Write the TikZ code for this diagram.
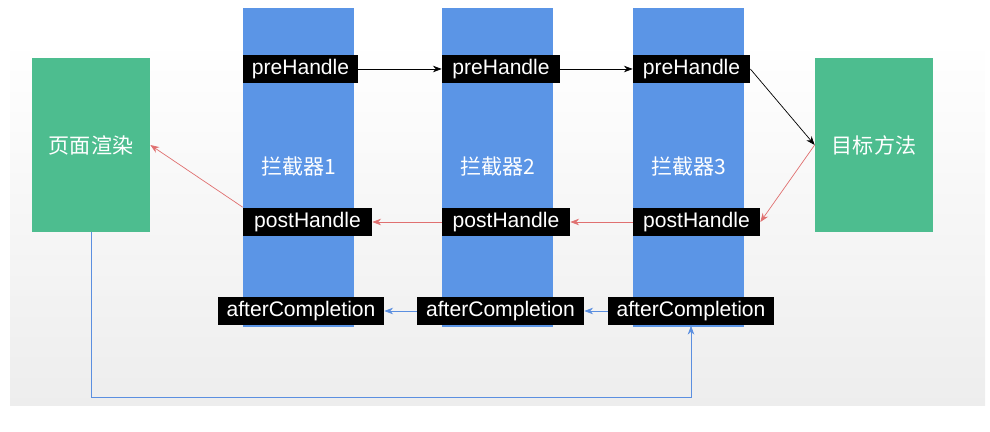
\documentclass[tikz,border=0pt]{standalone}
\usepackage{fontspec}
\setmainfont{Liberation Sans}
\newfontfamily\cjk{Noto Sans CJK SC}
\usetikzlibrary{arrows.meta}
\definecolor{boxgreen}{HTML}{4DBD8F}
\definecolor{colblue}{HTML}{5B95E6}
\definecolor{redline}{HTML}{E07070}
\definecolor{blueline}{HTML}{5B8FE0}
\tikzset{
  greenbox/.style={fill=boxgreen,text=white,minimum width=2.36cm,minimum height=3.48cm,font=\cjk\fontsize{12}{14}\selectfont},
  column/.style={fill=colblue,minimum width=2.22cm,minimum height=6.38cm},
  tag/.style={fill=black,text=white,minimum height=0.58cm,inner sep=0pt,font=\fontsize{12}{14}\selectfont},
  colname/.style={text=white,font=\cjk\fontsize{12}{14}\selectfont},
  blk/.style={-{Stealth[length=5pt]},black},
  rd/.style={-{Stealth[length=5pt]},redline},
  bl/.style={-{Stealth[length=5pt]},blueline}
}
\begin{document}
\begin{tikzpicture}[x=0.02cm,y=-0.02cm]
\useasboundingbox (0,0) rectangle (990,432);
\shade[top color=white,bottom color=gray!14] (10,40) rectangle (985,405);
% side boxes
\node[greenbox] (page) at (91,145) {页面渲染};
\node[greenbox] (target) at (874,145) {目标方法};
% interceptor columns
\foreach \i/\x in {1/298.5,2/497.5,3/688.5}{
  \node[column] (col\i) at (\x,167.5) {};
  \node[colname] (name\i) at (\x,167) {拦截器\i};
}
\node[tag,minimum width=2.30cm] (pre1) at (300.5,69) {preHandle};
\node[tag,minimum width=2.36cm] (pre2) at (501,69) {preHandle};
\node[tag,minimum width=2.34cm] (pre3) at (691.5,69) {preHandle};
\node[tag,minimum width=2.58cm] (post1) at (307.5,222) {postHandle};
\node[tag,minimum width=2.56cm] (post2) at (506,222) {postHandle};
\node[tag,minimum width=2.54cm] (post3) at (696.5,222) {postHandle};
\node[tag,minimum width=3.32cm] (after1) at (301,311) {afterCompletion};
\node[tag,minimum width=3.34cm] (after2) at (500.5,311) {afterCompletion};
\node[tag,minimum width=3.32cm] (after3) at (691,311) {afterCompletion};
% forward
\draw[blk] (pre1) -- (pre2);
\draw[blk] (pre2) -- (pre3);
\draw[blk] (pre3.east) -- (target.west);
% back
\draw[rd] (target.west) -- (post3.east);
\draw[rd] (post3) -- (post2);
\draw[rd] (post2) -- (post1);
\draw[rd] (post1.north west) -- (page.east);
% completion
\draw[bl] (after3) -- (after2);
\draw[bl] (after2) -- (after1);
\draw[bl] (page.south) -- (91,397) -| (after3.south);
\end{tikzpicture}
\end{document}
